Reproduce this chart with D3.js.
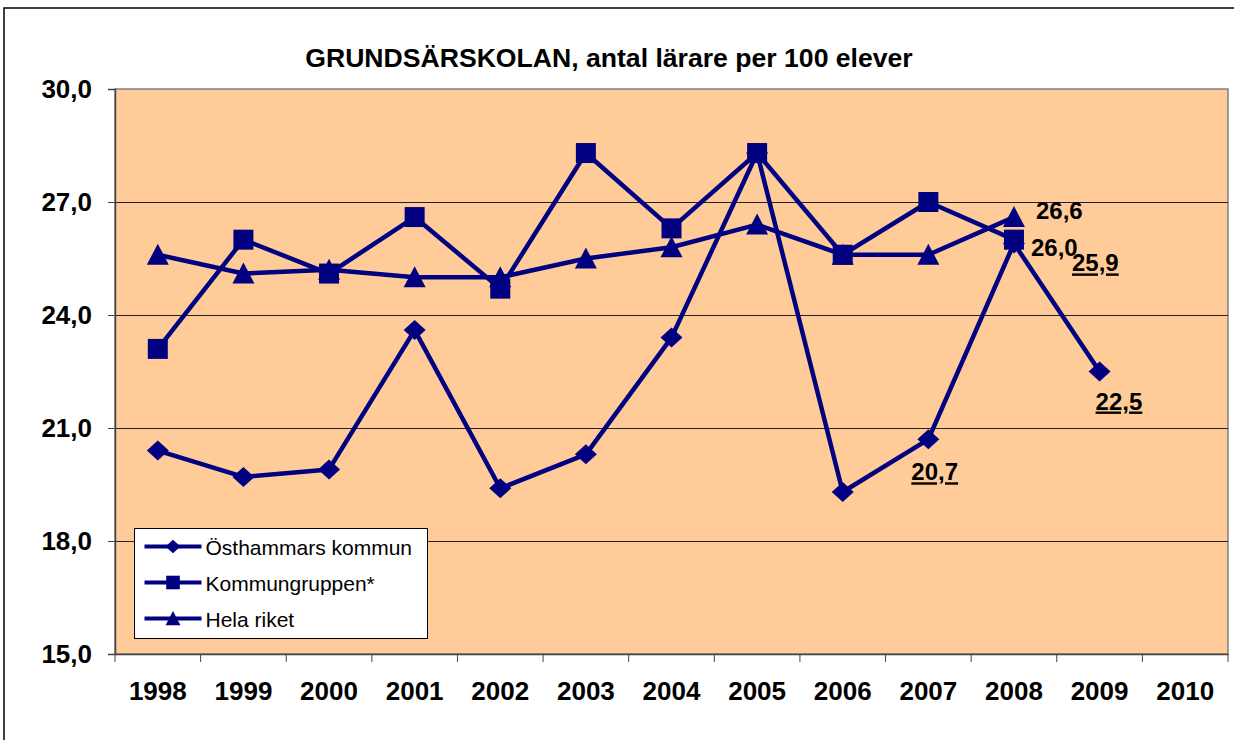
<!DOCTYPE html>
<html>
<head>
<meta charset="utf-8">
<script src="https://cdn.jsdelivr.net/npm/d3@7"></script>
<style>
  body { margin: 0; background: #fff; }
  svg { display: block; font-family: Arial, "Liberation Sans", sans-serif; }
</style>
</head>
<body>
<script>
// data
const years = ["1998", "1999", "2000", "2001", "2002", "2003", "2004", "2005", "2006", "2007", "2008", "2009", "2010"]
const osthammar = [20.4, 19.7, 19.9, 23.6, 19.4, 20.3, 23.4, 28.3, 19.3, 20.7, 25.9, 22.5, null]
const kommungruppen = [23.1, 26.0, 25.1, 26.6, 24.7, 28.3, 26.3, 28.3, 25.6, 27.0, 26.0, null, null]
const helaRiket = [25.6, 25.1, 25.2, 25.0, 25.0, 25.5, 25.8, 26.4, 25.6, 25.6, 26.6, null, null]
const yTicks = [15, 18, 21, 24, 27, 30]
const seriesNames = ["Östhammars kommun", "Kommungruppen*", "Hela riket"]

// which points get a value label, and where it sits relative to the point
const labelSpecs = [
    {series: 2, year: "2008", dx: 22, dy: 2, underline: false},
    {series: 1, year: "2008", dx: 17, dy: 16, underline: false},
    {series: 0, year: "2008", dx: 58, dy: 28, underline: true},
    {series: 0, year: "2009", dx: -4, dy: 38, underline: true},
    {series: 0, year: "2007", dx: -17, dy: 41, underline: true}
]

const width = 1234, height = 740
const margin = {top: 89, right: 6, bottom: 86, left: 115}
const navy = "#000080"

const svg = d3.select("body").append("svg")
    .attr("width", width)
    .attr("height", height)

// outer chart frame
svg.append("rect")
    .attr("x", 4).attr("y", 8)
    .attr("width", width + 10).attr("height", height + 10)
    .attr("fill", "#fff")
    .attr("stroke", "#000")
    .attr("stroke-width", 1.5)

const x = d3.scaleBand()
    .domain(years)
    .range([margin.left, width - margin.right])
    .padding(0)

const y = d3.scaleLinear()
    .domain([15, 30])
    .range([height - margin.bottom, margin.top])

const fmt = v => d3.format(".1f")(v).replace(".", ",")

// plot background
svg.append("rect")
    .attr("x", x.range()[0])
    .attr("y", y(30))
    .attr("width", x.range()[1] - x.range()[0])
    .attr("height", y(15) - y(30))
    .attr("fill", "#FFCC99")
    .attr("stroke", "#808080")
    .attr("stroke-width", 1.5)

// gridlines
svg.append("g")
    .selectAll("line")
    .data(yTicks.filter(d => d > 15 && d < 30))
    .join("line")
    .attr("x1", x.range()[0])
    .attr("x2", x.range()[1])
    .attr("y1", d => Math.round(y(d)) + 0.5)
    .attr("y2", d => Math.round(y(d)) + 0.5)
    .attr("stroke", "#222")
    .attr("stroke-width", 1)

// y axis
const yAxis = svg.append("g")
    .attr("transform", `translate(${x.range()[0]},0)`)
    .call(d3.axisLeft(y).tickValues(yTicks).tickFormat(fmt).tickSize(7).tickPadding(16))
yAxis.select(".domain").attr("stroke", "#444").attr("stroke-width", 1.5)
yAxis.selectAll(".tick line").attr("stroke", "#444")
yAxis.selectAll("text")
    .attr("font-size", 26)
    .attr("font-weight", "bold")
    .attr("font-family", "Arial, 'Liberation Sans', sans-serif")
    .attr("fill", "#000")

// x axis: labels at band centers, tick marks on band edges
const xAxis = svg.append("g")
    .attr("transform", `translate(0,${y(15)})`)
    .call(d3.axisBottom(x).tickSize(0).tickPadding(28).tickSizeOuter(0))
xAxis.select(".domain").attr("stroke", "#444").attr("stroke-width", 1.5)
xAxis.selectAll("text")
    .attr("font-size", 26)
    .attr("font-weight", "bold")
    .attr("font-family", "Arial, 'Liberation Sans', sans-serif")
    .attr("fill", "#000")

svg.append("g")
    .selectAll("line")
    .data(years.map(d => x(d)).concat([x.range()[1]]))
    .join("line")
    .attr("x1", d => d).attr("x2", d => d)
    .attr("y1", y(15)).attr("y2", y(15) + 8)
    .attr("stroke", "#444")

// title
svg.append("text")
    .attr("x", 609)
    .attr("y", 67)
    .attr("text-anchor", "middle")
    .attr("font-size", 26.6)
    .attr("font-weight", "bold")
    .text("GRUNDSÄRSKOLAN, antal lärare per 100 elever")

// marker shapes (centred on the point)
const markers = [
    "M0,-10L11,0L0,10L-11,0Z",
    "M-10,-10L10,-10L10,10L-10,10Z",
    "M0,-11L11,10L-11,10Z"
]

const allSeries = [osthammar, kommungruppen, helaRiket]

const line = d3.line()
    .defined(d => d.v != null)
    .x(d => x(d.year) + x.bandwidth() / 2)
    .y(d => y(d.v))

allSeries.forEach((vals, i) => {
    const pts = years.map((yr, j) => ({year: yr, v: vals[j]}))
    const g = svg.append("g")
    g.append("path")
        .attr("fill", "none")
        .attr("stroke", navy)
        .attr("stroke-width", 4.5)
        .attr("stroke-linejoin", "round")
        .attr("d", line(pts))
    g.selectAll("path.m")
        .data(pts.filter(d => d.v != null))
        .join("path")
        .attr("class", "m")
        .attr("d", markers[i])
        .attr("fill", navy)
        .attr("transform", d => `translate(${x(d.year) + x.bandwidth() / 2},${y(d.v)})`)
})

// value labels
svg.append("g")
    .selectAll("text")
    .data(labelSpecs)
    .join("text")
    .attr("x", d => x(d.year) + x.bandwidth() / 2 + d.dx)
    .attr("y", d => y(allSeries[d.series][years.indexOf(d.year)]) + d.dy)
    .attr("font-size", 24)
    .attr("font-weight", "bold")
    .attr("text-decoration", d => d.underline ? "underline" : null)
    .text(d => fmt(allSeries[d.series][years.indexOf(d.year)]))

// legend
const legend = svg.append("g").attr("transform", "translate(134.5,528.5)")
legend.append("rect")
    .attr("width", 293)
    .attr("height", 110)
    .attr("fill", "#fff")
    .attr("stroke", "#000")

const entries = legend.selectAll("g")
    .data(seriesNames)
    .join("g")
    .attr("transform", (d, i) => `translate(0,${18 + i * 36})`)

entries.append("line")
    .attr("x1", 10).attr("x2", 67)
    .attr("stroke", navy)
    .attr("stroke-width", 4)

entries.append("path")
    .attr("d", (d, i) => markers[i])
    .attr("fill", navy)
    .attr("transform", "translate(38.5,0) scale(0.68)")

entries.append("text")
    .attr("x", 71)
    .attr("y", 8)
    .attr("font-size", 21)
    .text(d => d)
</script>
</body>
</html>
